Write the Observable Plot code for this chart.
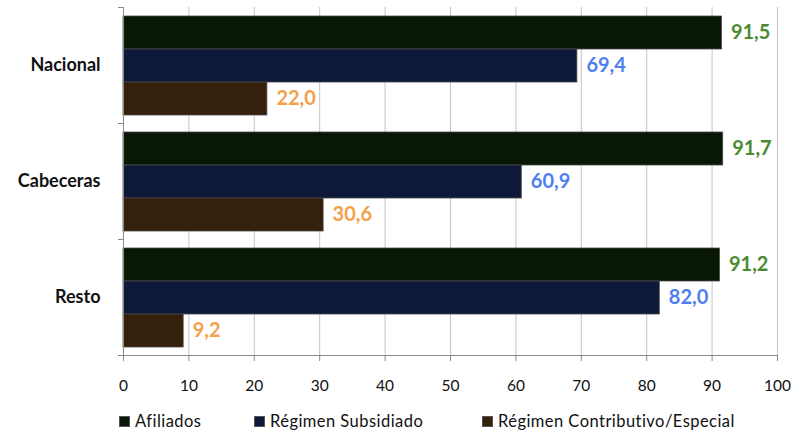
<!DOCTYPE html>
<html><head><meta charset="utf-8">
<script src="https://cdn.jsdelivr.net/npm/d3@7"></script>
<script src="https://cdn.jsdelivr.net/npm/@observablehq/plot@0.6"></script>
<style>
body{margin:0;background:#fff;font-family:Lato,sans-serif;}
#legend{position:relative;height:32px;width:796px;font-size:16.5px;letter-spacing:0.45px;color:#111;}
.item{position:absolute;top:12px;display:flex;align-items:center;white-space:nowrap;line-height:18px;}
.sw{width:11px;height:11px;margin-right:5px;box-sizing:border-box;border:1px solid #555;}
</style></head><body>
<div id="chart"></div><div id="legend"></div>
<script>
const categories = ["Nacional", "Cabeceras", "Resto"];
const series = ["Afiliados", "Régimen Subsidiado", "Régimen Contributivo/Especial"];
const afiliados = [91.5, 91.7, 91.2];
const subsidiado = [69.4, 60.9, 82.0];
const contributivo = [22.0, 30.6, 9.2];
const xTicks = [0, 10, 20, 30, 40, 50, 60, 70, 80, 90, 100];
const fills = ["#081804", "#0e1838", "#35200b"];
const labelColors = ["#4b8a30", "#4f7fef", "#f5a04a"];
const legendLeft = [119, 254, 482];

const values = [afiliados, subsidiado, contributivo];
const data = categories.flatMap((c, i) => values.map((arr, j) => ({cat: c, series: series[j], value: arr[i]})));

const H = 400, mt = 7, mb = 45;
const half = (H - mt - mb) / categories.length / 2;

const chart = Plot.plot({
  width: 796, height: H,
  marginLeft: 123, marginRight: 19, marginTop: mt, marginBottom: mb,
  style: {fontFamily: "Lato, sans-serif", background: "white", color: "#111"},
  x: {domain: [0, 100], label: null},
  y: {domain: series, axis: null, paddingInner: 0, paddingOuter: 0.24},
  fy: {domain: categories, paddingInner: 0, paddingOuter: 0, label: null, axis: null},
  color: {domain: series, range: fills},
  marks: [
    Plot.gridX(xTicks, {stroke: "#c4c4c4", strokeOpacity: 1}),
    Plot.barX(data, {x: "value", y: "series", fy: "cat", fill: "series", stroke: "#4a4a4a", strokeWidth: 0.8}),
    Plot.text(data, {x: "value", y: "series", fy: "cat",
      text: d => d.value.toFixed(1).replace(".", ","),
      textAnchor: "start", dx: 9, fontWeight: "bold", fontSize: 20,
      fill: d => labelColors[series.indexOf(d.series)]}),
    Plot.ruleX([0], {stroke: "#8a8a8a"}),
    Plot.frame({anchor: "bottom", facetAnchor: "bottom", stroke: "#8a8a8a"}),
    Plot.axisX({ticks: xTicks, tickSize: 6, tickPadding: 18, fontSize: 15.5, stroke: "#8a8a8a", fill: "#111", label: null, tickFormat: d => d}),
    Plot.axisFy({anchor: "left", tickSize: 0, tickPadding: 23, fontSize: 18, fontWeight: "bold", fill: "#111", label: null}),
    Plot.axisFy({anchor: "left", tickSize: 5, text: null, dy: -half, stroke: "#8a8a8a", label: null}),
    Plot.axisFy({anchor: "left", ticks: ["Resto"], tickSize: 5, text: null, dy: half, stroke: "#8a8a8a", label: null})
  ]
});
document.getElementById("chart").appendChild(chart);

const legend = document.getElementById("legend");
series.forEach((s, i) => {
  const item = document.createElement("div");
  item.className = "item";
  item.style.left = legendLeft[i] + "px";
  const sw = document.createElement("span");
  sw.className = "sw";
  sw.style.background = fills[i];
  const t = document.createElement("span");
  t.textContent = s;
  item.appendChild(sw); item.appendChild(t);
  legend.appendChild(item);
});
</script></body></html>
